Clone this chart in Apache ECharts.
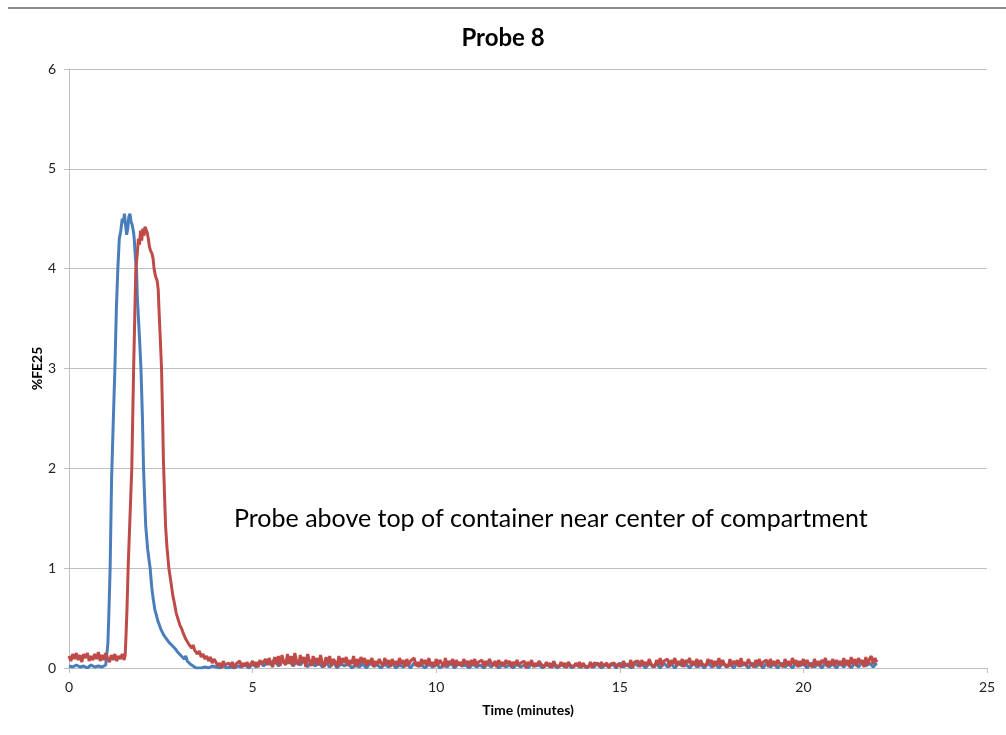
<!DOCTYPE html>
<html>
<head>
<meta charset="utf-8">
<title>Probe 8</title>
<script src="https://cdn.jsdelivr.net/npm/echarts@6/dist/echarts.min.js"></script>
<style>
  html, body { margin: 0; padding: 0; background: #fff; }
  #chart { width: 1006px; height: 735px; }
</style>
</head>
<body>
<div id="chart"></div>
<script>
// 坐标轴刻度
const xTicks = [0, 5, 10, 15, 20, 25];
const yTicks = [0, 1, 2, 3, 4, 5, 6];

// 峰值段 [时间(分钟), %FE25]
const blueHead = [
  [0.0, 0.02], [0.1, 0.01], [0.2, 0.03], [0.3, 0.01], [0.4, 0.02], [0.5, 0.0],
  [0.6, 0.03], [0.7, 0.01], [0.8, 0.02], [0.9, 0.01], [1.0, 0.03], [1.04, 0.02],
  [1.06, 0.25], [1.09, 0.6], [1.12, 1.0], [1.16, 1.9], [1.2, 2.4], [1.25, 3.0],
  [1.29, 3.6], [1.33, 4.0], [1.37, 4.3], [1.41, 4.38], [1.45, 4.5], [1.48, 4.46],
  [1.51, 4.55], [1.54, 4.44], [1.57, 4.34], [1.6, 4.4], [1.63, 4.52], [1.66, 4.55],
  [1.69, 4.47], [1.72, 4.44], [1.76, 4.36], [1.78, 4.28], [1.81, 4.1], [1.84, 3.98],
  [1.86, 3.72], [1.88, 3.58], [1.92, 3.3], [1.96, 3.0], [2.0, 2.5], [2.03, 2.0],
  [2.06, 1.7], [2.09, 1.42], [2.14, 1.2], [2.18, 1.08], [2.21, 1.0], [2.25, 0.82],
  [2.29, 0.7], [2.34, 0.58], [2.38, 0.53], [2.42, 0.47], [2.46, 0.45], [2.5, 0.39],
  [2.54, 0.38], [2.58, 0.33], [2.62, 0.35], [2.66, 0.29], [2.7, 0.3], [2.74, 0.25],
  [2.78, 0.27], [2.82, 0.22], [2.86, 0.24], [2.9, 0.19], [2.94, 0.21], [2.98, 0.15],
  [3.02, 0.17], [3.06, 0.12], [3.1, 0.14], [3.14, 0.09], [3.18, 0.12], [3.22, 0.07],
  [3.26, 0.09], [3.3, 0.04], [3.34, 0.06], [3.38, 0.02], [3.42, 0.03], [3.46, 0.0],
  [3.5, 0.02], [3.6, 0.0], [3.7, 0.01], [3.8, 0.0], [3.9, 0.02]
];

const redHead = [
  [0.0, 0.12], [0.05, 0.07], [0.1, 0.14], [0.15, 0.09], [0.2, 0.15], [0.25, 0.08],
  [0.3, 0.13], [0.35, 0.06], [0.4, 0.14], [0.45, 0.1], [0.5, 0.15], [0.55, 0.07],
  [0.6, 0.12], [0.65, 0.08], [0.7, 0.14], [0.75, 0.09], [0.8, 0.16], [0.85, 0.07],
  [0.9, 0.13], [0.95, 0.08], [1.0, 0.15], [1.05, 0.1], [1.1, 0.06], [1.15, 0.13],
  [1.2, 0.08], [1.25, 0.14], [1.3, 0.07], [1.35, 0.12], [1.4, 0.09], [1.45, 0.14],
  [1.5, 0.08], [1.53, 0.13], [1.55, 0.3], [1.58, 0.6], [1.61, 1.0], [1.66, 1.5],
  [1.71, 2.0], [1.73, 2.4], [1.76, 3.0], [1.79, 3.5], [1.82, 4.0], [1.86, 4.15],
  [1.89, 4.3], [1.92, 4.24], [1.95, 4.38], [1.98, 4.28], [2.01, 4.4], [2.04, 4.33],
  [2.07, 4.42], [2.1, 4.44], [2.13, 4.36], [2.16, 4.3], [2.19, 4.22], [2.22, 4.18],
  [2.26, 4.15], [2.29, 4.1], [2.32, 3.99], [2.36, 3.92], [2.4, 3.88], [2.43, 3.79],
  [2.45, 3.6], [2.48, 3.35], [2.52, 3.0], [2.55, 2.5], [2.57, 2.1], [2.6, 1.75],
  [2.63, 1.42], [2.67, 1.2], [2.72, 1.0], [2.78, 0.85], [2.83, 0.72], [2.87, 0.65],
  [2.92, 0.55], [2.97, 0.49], [3.02, 0.43], [3.06, 0.4], [3.1, 0.36], [3.14, 0.34],
  [3.18, 0.29], [3.22, 0.3], [3.26, 0.24], [3.3, 0.25], [3.34, 0.2], [3.38, 0.23],
  [3.42, 0.18], [3.46, 0.2], [3.5, 0.14], [3.55, 0.17], [3.6, 0.11], [3.65, 0.14],
  [3.7, 0.09], [3.75, 0.12], [3.8, 0.07], [3.85, 0.11], [3.9, 0.05], [3.95, 0.09]
];

// 尾段：从 4.0 分钟起等间隔读数
const tailStart = 4.0;
const blueStep = 0.1;
const redStep = 0.05;

const blueTail = [
  0.01, 0.0, 0.02, 0.0, 0.01, 0.0, 0.02, 0.01, 0.03, 0.0,
  0.04, 0.01, 0.06, 0.02, 0.07, 0.03, 0.09, 0.02, 0.07, 0.04,
  0.08, 0.02, 0.06, 0.03, 0.08, 0.01, 0.07, 0.02, 0.05, 0.01,
  0.05, 0.01, 0.06, 0.0, 0.04, 0.02, 0.05, 0.0, 0.03, 0.01,
  0.04, 0.0, 0.05, 0.02, 0.03, 0.0, 0.04, 0.01, 0.05, 0.0,
  0.03, 0.01, 0.04, 0.0, 0.05, 0.02, 0.03, 0.0, 0.04, 0.01,
  0.04, 0.0, 0.03, 0.01, 0.05, 0.0, 0.04, 0.02, 0.03, 0.0,
  0.04, 0.01, 0.03, 0.0, 0.04, 0.01, 0.05, 0.0, 0.03, 0.01,
  0.03, 0.0, 0.04, 0.01, 0.03, 0.0, 0.04, 0.02, 0.03, 0.0,
  0.04, 0.01, 0.03, 0.0, 0.04, 0.01, 0.03, 0.0, 0.04, 0.01,
  0.03, 0.0, 0.04, 0.01, 0.05, 0.0, 0.03, 0.01, 0.04, 0.0,
  0.05, 0.01, 0.04, 0.0, 0.05, 0.02, 0.04, 0.0, 0.05, 0.01,
  0.04, 0.0, 0.05, 0.01, 0.04, 0.0, 0.05, 0.02, 0.04, 0.0,
  0.05, 0.01, 0.04, 0.0, 0.05, 0.01, 0.04, 0.0, 0.05, 0.01,
  0.04, 0.0, 0.05, 0.02, 0.04, 0.0, 0.05, 0.01, 0.04, 0.0,
  0.05, 0.01, 0.04, 0.0, 0.05, 0.01, 0.04, 0.0, 0.05, 0.02,
  0.04, 0.0, 0.05, 0.01, 0.04, 0.0, 0.05, 0.01, 0.04, 0.0,
  0.05, 0.01, 0.06, 0.0, 0.05, 0.01, 0.06, 0.02, 0.05, 0.01,
  0.05
];

const redTail = [
  0.06, 0.02, 0.05, 0.0, 0.07, 0.03, 0.01, 0.05, 0.02, 0.06, 0.0, 0.04, 0.03, 0.07, 0.01, 0.05, 0.02, 0.06, 0.01, 0.04,
  0.07, 0.02, 0.06, 0.01, 0.08, 0.04, 0.02, 0.09, 0.03, 0.1, 0.05, 0.01, 0.11, 0.04, 0.12, 0.02, 0.13, 0.06, 0.03, 0.14,
  0.04, 0.12, 0.02, 0.15, 0.06, 0.03, 0.13, 0.05, 0.11, 0.01, 0.14, 0.07, 0.02, 0.12, 0.04, 0.1, 0.03, 0.13, 0.05, 0.01,
  0.11, 0.04, 0.12, 0.02, 0.09, 0.06, 0.01, 0.12, 0.03, 0.1, 0.05, 0.11, 0.02, 0.08, 0.04, 0.12, 0.01, 0.09, 0.03, 0.11,
  0.05, 0.1, 0.02, 0.08, 0.04, 0.1, 0.01, 0.07, 0.03, 0.09, 0.05, 0.02, 0.1, 0.04, 0.08, 0.01, 0.09, 0.03, 0.07, 0.02,
  0.1, 0.04, 0.08, 0.01, 0.09, 0.03, 0.07, 0.05, 0.1, 0.02, 0.06, 0.01, 0.09, 0.04, 0.08, 0.02, 0.1, 0.03, 0.06, 0.01,
  0.09, 0.03, 0.08, 0.05, 0.01, 0.1, 0.02, 0.07, 0.04, 0.09, 0.01, 0.08, 0.03, 0.06, 0.02, 0.09, 0.04, 0.07, 0.01, 0.08,
  0.03, 0.09, 0.02, 0.06, 0.04, 0.08, 0.01, 0.07, 0.03, 0.09, 0.05, 0.02, 0.07, 0.01, 0.08, 0.03, 0.06, 0.02, 0.08, 0.04,
  0.07, 0.01, 0.06, 0.03, 0.08, 0.02, 0.05, 0.04, 0.07, 0.0, 0.06, 0.03, 0.08, 0.01, 0.05, 0.02, 0.07, 0.04, 0.06, 0.01,
  0.06, 0.02, 0.05, 0.0, 0.07, 0.03, 0.04, 0.01, 0.06, 0.02, 0.05, 0.0, 0.06, 0.03, 0.04, 0.01, 0.05, 0.02, 0.06, 0.0,
  0.05, 0.02, 0.04, 0.01, 0.06, 0.0, 0.05, 0.03, 0.04, 0.01, 0.06, 0.02, 0.03, 0.05, 0.0, 0.04, 0.02, 0.05, 0.01, 0.04,
  0.06, 0.01, 0.07, 0.03, 0.05, 0.02, 0.08, 0.0, 0.06, 0.04, 0.07, 0.01, 0.08, 0.03, 0.06, 0.02, 0.09, 0.04, 0.05, 0.01,
  0.08, 0.03, 0.1, 0.02, 0.07, 0.05, 0.09, 0.01, 0.08, 0.04, 0.1, 0.02, 0.07, 0.03, 0.09, 0.01, 0.08, 0.05, 0.1, 0.02,
  0.07, 0.03, 0.09, 0.01, 0.08, 0.04, 0.06, 0.02, 0.09, 0.05, 0.08, 0.01, 0.07, 0.03, 0.1, 0.02, 0.08, 0.04, 0.06, 0.01,
  0.09, 0.02, 0.07, 0.04, 0.08, 0.01, 0.1, 0.03, 0.06, 0.02, 0.09, 0.05, 0.07, 0.01, 0.08, 0.03, 0.09, 0.02, 0.06, 0.04,
  0.08, 0.01, 0.09, 0.03, 0.07, 0.02, 0.08, 0.05, 0.06, 0.01, 0.09, 0.03, 0.07, 0.02, 0.1, 0.04, 0.08, 0.01, 0.07, 0.03,
  0.09, 0.02, 0.08, 0.04, 0.06, 0.01, 0.09, 0.03, 0.07, 0.02, 0.08, 0.05, 0.1, 0.01, 0.07, 0.03, 0.09, 0.02, 0.08, 0.04,
  0.07, 0.02, 0.1, 0.03, 0.08, 0.01, 0.11, 0.04, 0.09, 0.02, 0.1, 0.05, 0.08, 0.01, 0.11, 0.03, 0.09, 0.12, 0.04, 0.1,
  0.06
];

function buildSeries(head, tail, step) {
  const pts = head.slice();
  tail.forEach((v, i) => {
    pts.push([+(tailStart + i * step).toFixed(3), v]);
  });
  return pts;
}

const chart = echarts.init(document.getElementById('chart'));
const axisFont = 'Lato, "Open Sans", sans-serif';

const option = {
  animation: false,
  backgroundColor: '#fff',
  title: {
    text: 'Probe 8',
    left: 'center',
    top: 21,
    textStyle: { fontFamily: axisFont, fontSize: 24, fontWeight: 'bold', color: '#000' }
  },
  grid: { left: 69, right: 19, top: 69, bottom: 67 },
  xAxis: {
    type: 'value',
    min: xTicks[0],
    max: xTicks[xTicks.length - 1],
    interval: 5,
    name: 'Time (minutes)',
    nameLocation: 'middle',
    nameGap: 35,
    nameMoveOverlap: false,
    nameTextStyle: { fontFamily: axisFont, fontSize: 14, fontWeight: 'bold', color: '#000' },
    axisLine: { lineStyle: { color: '#bfbfbf', width: 1 } },
    axisTick: { show: true, length: 5, lineStyle: { color: '#bfbfbf' } },
    axisLabel: { fontFamily: axisFont, fontSize: 14, color: '#222', margin: 12 },
    splitLine: { show: false }
  },
  yAxis: {
    type: 'value',
    min: yTicks[0],
    max: yTicks[yTicks.length - 1],
    interval: 1,
    name: '%FE25',
    nameLocation: 'middle',
    nameGap: 25,
    nameMoveOverlap: false,
    nameTextStyle: { fontFamily: axisFont, fontSize: 14, fontWeight: 'bold', color: '#000' },
    axisLine: { show: true, lineStyle: { color: '#bfbfbf', width: 1 } },
    axisTick: { show: true, length: 5, lineStyle: { color: '#bfbfbf' } },
    axisLabel: { fontFamily: axisFont, fontSize: 14, color: '#222', margin: 13 },
    splitLine: { lineStyle: { color: '#bfbfbf', width: 1 } }
  },
  series: [
    {
      name: 'Blue',
      type: 'line',
      data: buildSeries(blueHead, blueTail, blueStep),
      showSymbol: false,
      lineStyle: { color: '#4a7ebb', width: 3 },
      itemStyle: { color: '#4a7ebb' }
    },
    {
      name: 'Red',
      type: 'line',
      data: buildSeries(redHead, redTail, redStep),
      showSymbol: false,
      lineStyle: { color: '#be4b48', width: 3 },
      itemStyle: { color: '#be4b48' }
    }
  ],
  graphic: [
    {
      type: 'line',
      shape: { x1: 8, y1: 8, x2: 1006, y2: 8 },
      style: { stroke: '#8c8c8c', lineWidth: 2 }
    },
    {
      type: 'text',
      left: 234,
      top: 506,
      style: {
        text: 'Probe above top of container near center of compartment',
        font: '25px Lato, "Open Sans", sans-serif',
        fill: '#000'
      }
    }
  ]
};

chart.setOption(option);
</script>
</body>
</html>
